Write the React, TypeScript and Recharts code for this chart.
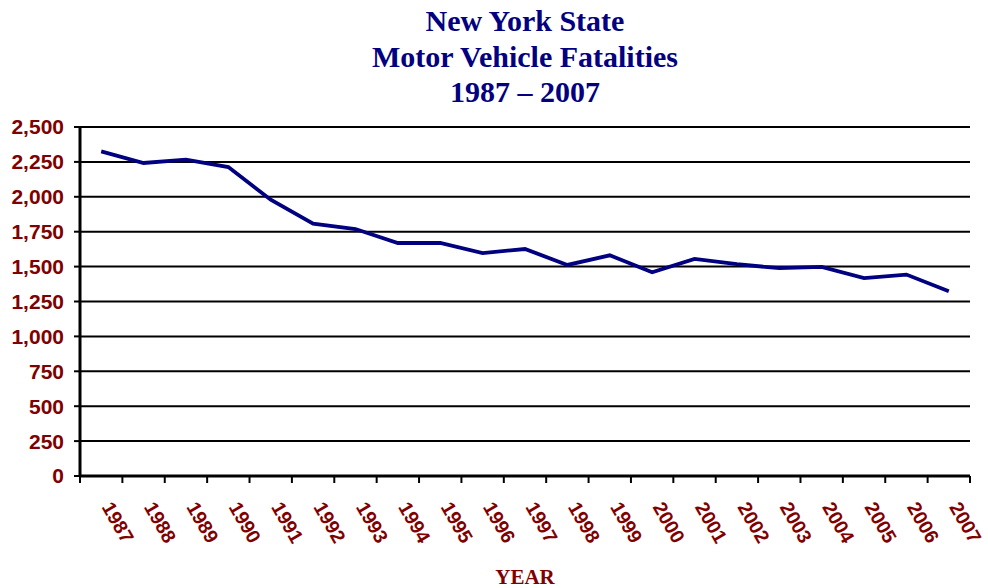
import React from "react";
import { LineChart, Line, XAxis, YAxis, CartesianGrid } from "recharts";

// Chart data
const YEARS = [
  "1987", "1988", "1989", "1990", "1991", "1992", "1993", "1994", "1995", "1996", "1997",
  "1998", "1999", "2000", "2001", "2002", "2003", "2004", "2005", "2006", "2007",
];
const FATALITIES = [
  2325, 2242, 2266, 2213, 1979, 1807, 1769, 1669, 1669, 1597, 1626,
  1512, 1581, 1459, 1555, 1517, 1489, 1498, 1417, 1443, 1324,
];
const Y_TICKS = [0, 250, 500, 750, 1000, 1250, 1500, 1750, 2000, 2250, 2500];
const TITLE_LINES = ["New York State", "Motor Vehicle Fatalities", "1987 \u2013 2007"];

const NAVY = "#000080";
const MAROON = "#800000";

const data = YEARS.map((year, i) => ({ i, year, value: FATALITIES[i] }));
// tick marks sit on the category boundaries
const boundaryTicks = YEARS.map((_, i) => i - 0.5).concat(YEARS.length - 0.5);

const PLOT_WIDTH = 890;
const HALF_BAND = PLOT_WIDTH / YEARS.length / 2;

function YearTick(props: any) {
  const { x, y, payload } = props;
  const idx = Math.round(payload.value + 0.5);
  if (idx >= YEARS.length) return null;
  const tx = x + HALF_BAND;
  const ty = y + 22;
  return (
    <text
      x={tx}
      y={ty}
      transform={`rotate(60 ${tx} ${ty})`}
      textAnchor="start"
      fill={MAROON}
      fontFamily="'Liberation Sans', Arial, sans-serif"
      fontWeight="bold"
      fontSize={19.5}
    >
      {YEARS[idx]}
    </text>
  );
}

export default function App() {
  return (
    <div style={{ position: "absolute", left: 0, top: 0, width: 988, height: 588, background: "#fff", overflow: "hidden" }}>
      <div
        style={{
          position: "absolute",
          left: 0,
          top: 3,
          width: 1050,
          textAlign: "center",
          fontFamily: "'Liberation Serif', 'Times New Roman', serif",
          fontWeight: "bold",
          fontSize: 30,
          lineHeight: "35.5px",
          color: NAVY,
        }}
      >
        {TITLE_LINES.map((t) => (
          <div key={t}>{t}</div>
        ))}
      </div>
      <LineChart width={988} height={588} data={data} margin={{ top: 127, right: 18, bottom: 82, left: 0 }}>
        <CartesianGrid vertical={false} stroke="#000" strokeWidth={2} />
        <XAxis
          dataKey="i"
          type="number"
          height={30}
          domain={[-0.5, YEARS.length - 0.5]}
          ticks={boundaryTicks}
          interval={0}
          tick={<YearTick />}
          tickSize={7}
          axisLine={{ stroke: "#000", strokeWidth: 3 }}
          tickLine={{ stroke: "#000", strokeWidth: 2 }}
        />
        <YAxis
          domain={[0, 2500]}
          ticks={Y_TICKS}
          width={80}
          interval={0}
          tickSize={6}
          tickMargin={10}
          tickFormatter={(v: number) => v.toLocaleString("en-US")}
          tick={{ fill: MAROON, fontSize: 21, fontWeight: "bold", fontFamily: "'Liberation Sans', Arial, sans-serif" }}
          axisLine={{ stroke: "#000", strokeWidth: 3 }}
          tickLine={{ stroke: "#000", strokeWidth: 2 }}
        />
        <YAxis
          yAxisId="border"
          orientation="right"
          width={0}
          tick={false}
          tickLine={false}
          axisLine={{ stroke: "#333", strokeWidth: 2 }}
        />
        <Line
          type="linear"
          dataKey="value"
          stroke={NAVY}
          strokeWidth={3.8}
          dot={false}
          isAnimationActive={false}
        />
      </LineChart>
      <div
        style={{
          position: "absolute",
          left: 0,
          top: 565,
          width: 1050,
          textAlign: "center",
          fontFamily: "'Liberation Serif', 'Times New Roman', serif",
          fontWeight: "bold",
          fontSize: 21,
          color: MAROON,
        }}
      >
        YEAR
      </div>
    </div>
  );
}
